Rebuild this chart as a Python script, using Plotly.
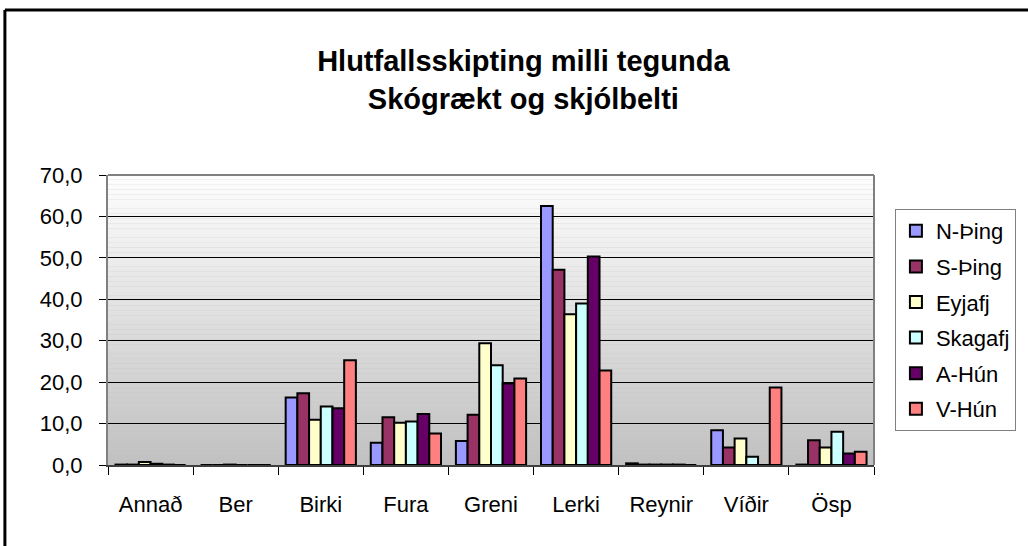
import plotly.graph_objects as go

categories = ["Annað", "Ber", "Birki", "Fura", "Greni", "Lerki", "Reynir", "Víðir", "Ösp"]
n_thing = [0.1, 0.0, 16.3, 5.4, 5.8, 62.5, 0.4, 8.4, 0.1]
s_thing = [0.1, 0.0, 17.3, 11.5, 12.1, 47.1, 0.1, 4.2, 6.0]
eyjafj = [0.7, 0.1, 10.9, 10.2, 29.4, 36.4, 0.1, 6.4, 4.2]
skagafj = [0.3, 0.0, 14.1, 10.5, 24.1, 39.0, 0.1, 2.0, 8.0]
a_hun = [0.1, 0.0, 13.7, 12.3, 19.7, 50.3, 0.1, 0.0, 2.8]
v_hun = [0.0, 0.0, 25.3, 7.6, 20.9, 22.8, 0.0, 18.7, 3.2]

series_names = ["N-Þing", "S-Þing", "Eyjafj", "Skagafj", "A-Hún", "V-Hún"]
series_values = [n_thing, s_thing, eyjafj, skagafj, a_hun, v_hun]
series_colors = ["#9999FF", "#993366", "#FFFFCC", "#CCFFFF", "#660066", "#FF8080"]
y_ticks = [0, 10, 20, 30, 40, 50, 60, 70]

FONT = "Liberation Sans, Arial, sans-serif"

fig = go.Figure()
for name, vals, col in zip(series_names, series_values, series_colors):
    fig.add_trace(go.Bar(
        x=categories, y=vals, name=name, legendgroup=name,
        marker=dict(color=col, line=dict(color="black", width=2)),
    ))

# gradient background for plot area
shapes = []
N = 60
for i in range(N):
    t = (i + 0.5) / N  # 0 bottom -> 1 top
    v = int(round(192 + (254 - 192) * t))
    shapes.append(dict(
        type="rect", xref="x domain", yref="y domain",
        x0=0, x1=1, y0=i / N, y1=(i + 1) / N,
        fillcolor=f"rgb({v},{v},{v})", line=dict(width=0), layer="below",
    ))
# plot border (top and right)
shapes.append(dict(type="line", xref="x domain", yref="y domain", x0=0, x1=1, y0=1, y1=1,
                   line=dict(color="#808080", width=2), layer="above"))
shapes.append(dict(type="line", xref="x domain", yref="y domain", x0=1, x1=1, y0=0, y1=1,
                   line=dict(color="#808080", width=2), layer="above"))
# outer chart frame (top and left visible)
W, H = 1028, 546
ml, mr, mt, mb = 108, 151, 175, 81
pw, ph = W - ml - mr, H - mt - mb
def px_x(x):
    return (x - ml) / pw
def px_y(y):
    return 1 - (y - mt) / ph
shapes.append(dict(type="line", xref="paper", yref="paper",
                   x0=px_x(4.5), x1=px_x(1040), y0=px_y(10), y1=px_y(10),
                   line=dict(color="black", width=3)))
shapes.append(dict(type="line", xref="paper", yref="paper",
                   x0=px_x(4.5), x1=px_x(4.5), y0=px_y(10), y1=px_y(560),
                   line=dict(color="black", width=3)))

fig.update_layout(
    width=W, height=H,
    margin=dict(l=ml, r=mr, t=mt, b=mb, pad=0),
    paper_bgcolor="white", plot_bgcolor="#C0C0C0",
    separators=",.",
    font=dict(family=FONT, size=22, color="black"),
    title=dict(
        text="<b>Hlutfallsskipting milli tegunda<br>Skógrækt og skjólbelti</b>",
        x=px_x(525), xref="paper", xanchor="center",
        y=1 - 71 / H, yref="container", yanchor="middle",
        font=dict(family=FONT, size=29, color="black"),
    ),
    barmode="group", bargap=0.175, bargroupgap=0,
    showlegend=True,
    legend=dict(
        x=px_x(898), xanchor="left", y=px_y(209), yanchor="top",
        bgcolor="white", bordercolor="#808080", borderwidth=1,
        font=dict(family=FONT, size=22, color="black"),
        traceorder="grouped", tracegroupgap=4,
        itemwidth=30,
    ),
    shapes=shapes,
)
fig.update_xaxes(
    type="category", showgrid=False,
    showline=True, linecolor="#404040", linewidth=2,
    ticks="outside", tickson="boundaries", ticklen=8, tickcolor="black", tickwidth=1,
    ticklabelstandoff=19,
    tickfont=dict(family=FONT, size=22, color="black"),
)
fig.update_yaxes(
    range=[0, 70], tickvals=y_ticks, tickformat=".1f",
    showgrid=True, gridcolor="black", gridwidth=1,
    zeroline=False,
    showline=True, linecolor="#808080", linewidth=2,
    ticks="outside", ticklen=7, tickcolor="black", tickwidth=1,
    ticklabelstandoff=12,
    tickfont=dict(family=FONT, size=22, color="black"),
)

fig.write_html(
    "out.html",
    config={"displayModeBar": False},
    post_script="document.body.style.margin='0';document.body.style.overflow='hidden';",
)
